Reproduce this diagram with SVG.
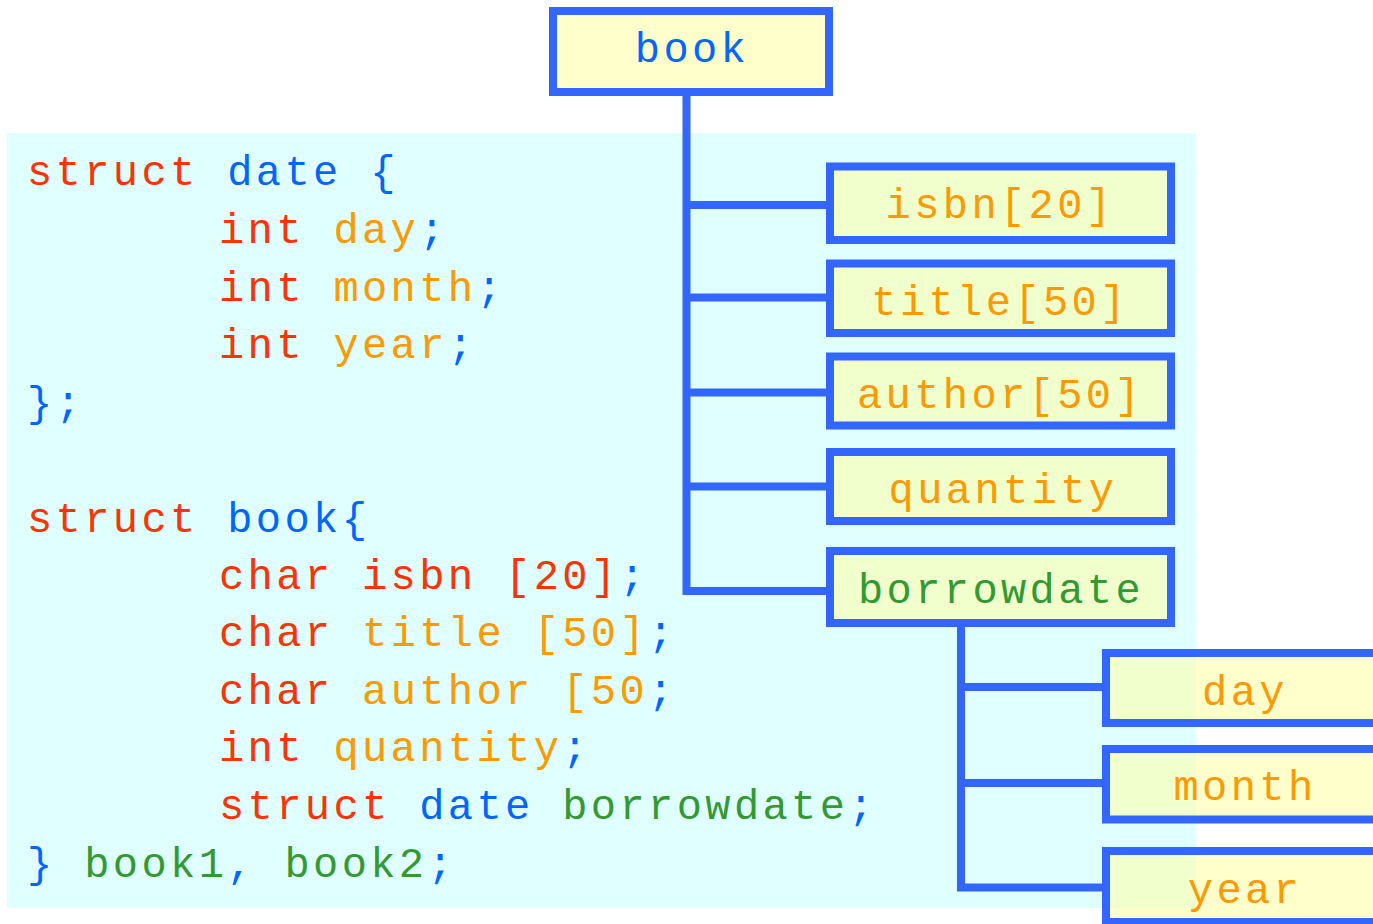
<svg xmlns="http://www.w3.org/2000/svg" width="1373" height="924" viewBox="0 0 1373 924">
  <style>
    .code { font-family: "Liberation Mono", "Courier New", monospace; font-size: 42px; letter-spacing: 3.4px; white-space: pre; }
    .kw { fill: #FF3300; }
    .ty { fill: #0066FF; }
    .fd { fill: #FF9900; }
    .vr { fill: #339933; }
    .box { fill: #FFFF99; fill-opacity: 0.5; stroke: #3366FF; stroke-width: 8; }
    .label { font-family: "Liberation Mono", "Courier New", monospace; font-size: 42px; letter-spacing: 3.4px; text-anchor: middle; }
    .wire { fill: none; stroke: #3366FF; stroke-width: 8; stroke-linejoin: miter; }
  </style>

  <rect width="1373" height="924" fill="#FFFFFF"/>
  <!-- code panel -->
  <rect id="code-panel" x="7" y="133" width="1189" height="775" fill="#E0FFFF"/>

  <g id="code">
    <text class="code" x="27" y="185"><tspan class="kw">struct</tspan><tspan class="ty"> date {</tspan></text>
    <text class="code" x="219" y="243"><tspan class="kw">int</tspan><tspan class="fd"> day</tspan><tspan class="ty">;</tspan></text>
    <text class="code" x="219" y="301"><tspan class="kw">int</tspan><tspan class="fd"> month</tspan><tspan class="ty">;</tspan></text>
    <text class="code" x="219" y="358"><tspan class="kw">int</tspan><tspan class="fd"> year</tspan><tspan class="ty">;</tspan></text>
    <text class="code" x="27" y="416"><tspan class="ty">};</tspan></text>

    <text class="code" x="27" y="532"><tspan class="kw">struct</tspan><tspan class="ty"> book{</tspan></text>
    <text class="code" x="219" y="589"><tspan class="kw">char isbn [20]</tspan><tspan class="ty">;</tspan></text>
    <text class="code" x="219" y="646"><tspan class="kw">char</tspan><tspan class="fd"> title [50]</tspan><tspan class="ty">;</tspan></text>
    <text class="code" x="219" y="704"><tspan class="kw">char</tspan><tspan class="fd"> author [50</tspan><tspan class="ty">;</tspan></text>
    <text class="code" x="219" y="761"><tspan class="kw">int</tspan><tspan class="fd"> quantity</tspan><tspan class="ty">;</tspan></text>
    <text class="code" x="219" y="819"><tspan class="kw">struct</tspan><tspan class="ty"> date</tspan><tspan class="vr"> borrowdate</tspan><tspan class="ty">;</tspan></text>
    <text class="code" x="27" y="877"><tspan class="ty">}</tspan><tspan class="vr"> book1</tspan><tspan class="ty">,</tspan><tspan class="vr"> book2</tspan><tspan class="ty">;</tspan></text>
  </g>

  <!-- tree connectors -->
  <g id="connectors">
    <path class="wire" d="M686.5 96 V591 H830"/>
    <line class="wire" x1="686.5" y1="205" x2="830" y2="205"/>
    <line class="wire" x1="686.5" y1="297.5" x2="830" y2="297.5"/>
    <line class="wire" x1="686.5" y1="392.5" x2="830" y2="392.5"/>
    <line class="wire" x1="686.5" y1="486.5" x2="830" y2="486.5"/>
    <path class="wire" d="M961 626 V887.5 H1106"/>
    <line class="wire" x1="961" y1="687" x2="1106" y2="687"/>
    <line class="wire" x1="961" y1="783" x2="1106" y2="783"/>
  </g>

  <g id="node-book">
    <rect class="box" x="553" y="11" width="276" height="81"/>
    <text class="label ty" x="692" y="62">book</text>
  </g>
  <g id="node-isbn">
    <rect class="box" x="830" y="166.5" width="341" height="73.5"/>
    <text class="label fd" x="1000" y="218">isbn[20]</text>
  </g>
  <g id="node-title">
    <rect class="box" x="830" y="263.5" width="341" height="69.5"/>
    <text class="label fd" x="1000" y="315">title[50]</text>
  </g>
  <g id="node-author">
    <rect class="box" x="830" y="356.5" width="341" height="69"/>
    <text class="label fd" x="1000" y="408">author[50]</text>
  </g>
  <g id="node-quantity">
    <rect class="box" x="830" y="452" width="341" height="69"/>
    <text class="label fd" x="1003" y="503">quantity</text>
  </g>
  <g id="node-borrowdate">
    <rect class="box" x="830" y="551" width="341" height="72"/>
    <text class="label vr" x="1001" y="603">borrowdate</text>
  </g>
  <g id="node-day">
    <rect class="box" x="1106" y="653" width="274" height="70"/>
    <text class="label fd" x="1245" y="705">day</text>
  </g>
  <g id="node-month">
    <rect class="box" x="1106" y="749" width="274" height="70.5"/>
    <text class="label fd" x="1245" y="800">month</text>
  </g>
  <g id="node-year">
    <rect class="box" x="1106" y="851" width="274" height="71"/>
    <text class="label fd" x="1245" y="903">year</text>
  </g>
</svg>
